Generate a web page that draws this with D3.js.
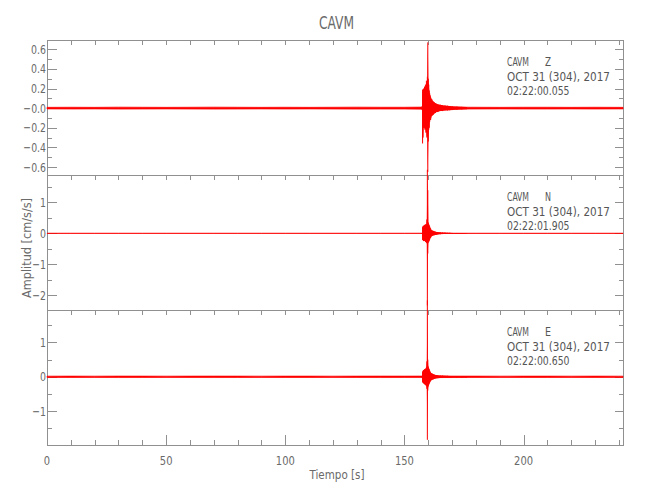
<!DOCTYPE html>
<html><head><meta charset="utf-8">
<script src="https://cdn.jsdelivr.net/npm/d3@7"></script>
<style>body{margin:0;background:#fff}svg{display:block}</style>
</head><body><svg id="c" width="650" height="500"></svg>
<script>
// ---------- data ----------
const stationName = "CAVM";
const components = ["Z", "N", "E"];
const dateLabel = "OCT 31 (304), 2017";
const startTimes = ["02:22:00.055", "02:22:01.905", "02:22:00.650"];
const xLabel = "Tiempo [s]";
const yLabel = "Amplitud [cm/s/s]";

const xTickValues = [0, 50, 100, 150, 200];
const xTickLabels = ["0", "50", "100", "150", "200"];
const zTicks = [-0.6, -0.4, -0.2, 0, 0.2, 0.4, 0.6];
const zTickLabels = ["−0.6", "−0.4", "−0.2", "−0.0", "0.2", "0.4", "0.6"];
const zMinor = [-0.5, -0.3, -0.1, 0.1, 0.3, 0.5];
const nTicks = [-2, -1, 0, 1];
const nTickLabels = ["−2", "−1", "0", "1"];
const nMinor = [-1.5, -0.5, 0.5, 1.5];
const eTicks = [-1, 0, 1];
const eTickLabels = ["−1", "0", "1"];
const eMinor = [-1.5, -0.5, 0.5, 1.5];

const quietT = [0,10,20,30,40,50,60,70,80,90,100,110,120,130,140,150,160,170,180,190,200,210,220,230,240,241.7];
const noiseZ = [0.008,0.009,0.008,0.010,0.009,0.008,0.009,0.010,0.009,0.008,0.009,0.008,0.009,0.010,0.009,0.009,0.011,0.010,0.009,0.008,0.009,0.009,0.008,0.009,0.008,0.008];
const noiseN = [0.004,0.004,0.004,0.005,0.004,0.004,0.004,0.005,0.004,0.004,0.004,0.004,0.005,0.004,0.004,0.005,0.006,0.005,0.004,0.004,0.004,0.004,0.005,0.004,0.004,0.004];
const noiseE = [0.019,0.020,0.019,0.021,0.020,0.019,0.020,0.021,0.020,0.019,0.020,0.020,0.019,0.020,0.021,0.020,0.022,0.021,0.020,0.019,0.020,0.020,0.019,0.020,0.019,0.019];

// event envelope (max / min per bin)
const eventT = [157.4,157.6,157.8,158.0,158.2,158.4,158.6,158.8,159.0,159.2,159.4,159.6,159.8,160.0,160.2,160.4,160.6,160.8,161.0,161.5,162.0,162.5,163.0,163.5,164.0,165.0,166.0,167.0,168.0,169.0,170.0,172.0,174.0,176.0];
const zHi = [0.02,0.19,0.17,0.20,0.18,0.22,0.19,0.24,0.21,0.28,0.25,0.32,0.67,0.30,0.24,0.18,0.15,0.13,0.11,0.09,0.07,0.06,0.05,0.045,0.04,0.035,0.03,0.028,0.025,0.022,0.02,0.016,0.013,0.011];
const zLo = [-0.02,-0.36,-0.30,-0.20,-0.19,-0.20,-0.22,-0.21,-0.25,-0.24,-0.30,-0.28,-0.65,-0.34,-0.22,-0.20,-0.14,-0.12,-0.12,-0.08,-0.07,-0.055,-0.05,-0.04,-0.04,-0.03,-0.03,-0.025,-0.024,-0.022,-0.02,-0.016,-0.013,-0.011];
const nHi = [0.01,0.20,0.24,0.22,0.26,0.25,0.28,0.27,0.30,0.28,0.45,2.05,1.39,0.35,0.30,0.26,0.22,0.18,0.15,0.10,0.08,0.065,0.055,0.045,0.04,0.035,0.03,0.025,0.02,0.018,0.015,0.012,0.01,0.008];
const nLo = [-0.01,-0.22,-0.20,-0.25,-0.22,-0.24,-0.25,-0.28,-0.26,-0.30,-0.32,-2.32,-0.65,-0.30,-0.28,-0.24,-0.20,-0.16,-0.14,-0.09,-0.07,-0.06,-0.05,-0.045,-0.04,-0.03,-0.025,-0.02,-0.02,-0.016,-0.014,-0.012,-0.01,-0.008];
const eHi = [0.02,0.15,0.18,0.20,0.19,0.22,0.21,0.24,0.23,0.28,0.45,2.22,0.50,0.30,0.25,0.22,0.18,0.15,0.12,0.10,0.08,0.065,0.055,0.05,0.045,0.04,0.035,0.03,0.028,0.025,0.024,0.022,0.021,0.02];
const eLo = [-0.02,-0.16,-0.17,-0.18,-0.21,-0.20,-0.23,-0.22,-0.25,-0.26,-0.35,-1.83,-0.40,-0.28,-0.24,-0.20,-0.17,-0.14,-0.12,-0.09,-0.075,-0.06,-0.05,-0.045,-0.04,-0.035,-0.03,-0.03,-0.026,-0.024,-0.022,-0.022,-0.021,-0.02];

// ---------- layout ----------
const svg = d3.select("#c");
const left = 47, right = 623, top0 = 40, panelH = 135;
const axisCol = "#909090", textCol = "#6a6a6a", annCol = "#555", trace = "#ff0000";
const font = "'DejaVu Sans Condensed','DejaVu Sans',sans-serif";

function narrow(sel, k) {
  sel.each(function () {
    const w = this.getComputedTextLength();
    this.setAttribute("textLength", (w * k).toFixed(1));
    this.setAttribute("lengthAdjust", "spacingAndGlyphs");
  });
}
function fit(sel, w) {
  sel.attr("textLength", w).attr("lengthAdjust", "spacingAndGlyphs");
}

const x = d3.scaleLinear().domain([0, 241.7]).range([left, right]);

const panels = [
  {dom: [-0.681, 0.694], ticks: zTicks, labels: zTickLabels, minor: zMinor, noise: noiseZ, hi: zHi, lo: zLo},
  {dom: [-2.47, 1.88], ticks: nTicks, labels: nTickLabels, minor: nMinor, noise: noiseN, hi: nHi, lo: nLo},
  {dom: [-1.98, 1.94], ticks: eTicks, labels: eTickLabels, minor: eMinor, noise: noiseE, hi: eHi, lo: eLo}
];

const xMinor = d3.range(0, 241, 10).filter(v => !xTickValues.includes(v));

panels.forEach((p, i) => {
  const y0 = top0 + i * panelH;
  const y = d3.scaleLinear().domain(p.dom).range([y0 + panelH, y0]);
  const g = svg.append("g");

  g.append("rect").attr("x", left).attr("y", y0).attr("width", right - left).attr("height", panelH)
    .attr("fill", "none").attr("stroke", axisCol).attr("stroke-width", 1).attr("shape-rendering", "crispEdges");

  g.append("g").attr("transform", `translate(${left},0)`).call(d3.axisRight(y).tickValues(p.ticks).tickSize(10).tickFormat(""));
  g.append("g").attr("transform", `translate(${left},0)`).call(d3.axisRight(y).tickValues(p.minor).tickSize(5).tickFormat(""));
  g.append("g").attr("transform", `translate(${right},0)`).call(d3.axisLeft(y).tickValues(p.ticks).tickSize(8).tickFormat(""));
  g.append("g").attr("transform", `translate(${right},0)`).call(d3.axisLeft(y).tickValues(p.minor).tickSize(4).tickFormat(""));
  g.append("g").attr("transform", `translate(0,${y0})`).call(d3.axisBottom(x).tickValues(xTickValues).tickSize(5).tickFormat(""));
  g.append("g").attr("transform", `translate(0,${y0})`).call(d3.axisBottom(x).tickValues(xMinor).tickSize(5).tickFormat(""));
  if (i === 2) {
    g.append("g").attr("transform", `translate(0,${y0 + panelH})`).call(d3.axisTop(x).tickValues(xTickValues).tickSize(10).tickFormat(""));
    g.append("g").attr("transform", `translate(0,${y0 + panelH})`).call(d3.axisTop(x).tickValues(xMinor).tickSize(5).tickFormat(""));
    g.selectAll(".xl").data(xTickValues).enter().append("text")
      .attr("x", d => x(d)).attr("y", y0 + panelH + 20).attr("text-anchor", "middle")
      .attr("font-family", font).attr("font-size", 13).attr("fill", textCol)
      .text((d, k) => xTickLabels[k]).call(narrow, 0.85);
  }
  g.selectAll(".domain").remove();
  g.selectAll(".tick line").attr("stroke", axisCol).attr("shape-rendering", "crispEdges");

  g.selectAll(".yl").data(p.ticks).enter().append("text")
    .attr("x", left - 1).attr("y", d => y(d) + 4.5).attr("text-anchor", "end")
    .attr("font-family", font).attr("font-size", 13).attr("fill", textCol)
    .text((d, k) => p.labels[k]).call(narrow, 0.8);

  // background noise band
  const qa = d3.area().x((d, k) => x(quietT[k])).y0((d, k) => y(-p.noise[k])).y1((d, k) => y(p.noise[k]));
  g.append("path").attr("d", qa(quietT)).attr("fill", trace).attr("stroke", trace).attr("stroke-width", 0.7);

  // event envelope
  const ea = d3.area().x((d, k) => x(eventT[k])).y0((d, k) => y(p.lo[k])).y1((d, k) => y(p.hi[k]));
  g.append("path").attr("d", ea(eventT)).attr("fill", trace).attr("stroke", "none");
  g.selectAll(".rule").data(eventT).enter().append("line")
    .attr("x1", d => x(d)).attr("x2", d => x(d))
    .attr("y1", (d, k) => y(p.hi[k])).attr("y2", (d, k) => y(p.lo[k]))
    .attr("stroke", trace).attr("stroke-width", 1);

  // annotation
  const ax = 507;
  const t = (xx, yy, s) => g.append("text").attr("x", xx).attr("y", yy)
    .attr("font-family", font).attr("font-size", 13).attr("fill", annCol).text(s);
  t(ax, y0 + 26, stationName).call(fit, 22);
  t(545, y0 + 26, components[i]).call(fit, 6);
  t(ax, y0 + 40.7, dateLabel).call(fit, 103);
  t(ax, y0 + 55, startTimes[i]).call(fit, 62.5);
});

svg.append("text").attr("x", 336.5).attr("y", 29).attr("text-anchor", "middle")
  .attr("font-family", font).attr("font-size", 18).attr("fill", textCol).text(stationName).call(fit, 35);
svg.append("text").attr("x", 337).attr("y", 479).attr("text-anchor", "middle")
  .attr("font-family", font).attr("font-size", 13).attr("fill", textCol).text(xLabel).call(fit, 55);
svg.append("text").attr("transform", "translate(31,248) rotate(-90)").attr("text-anchor", "middle")
  .attr("font-family", font).attr("font-size", 13).attr("fill", textCol).text(yLabel).call(fit, 100);
</script>
</body></html>
